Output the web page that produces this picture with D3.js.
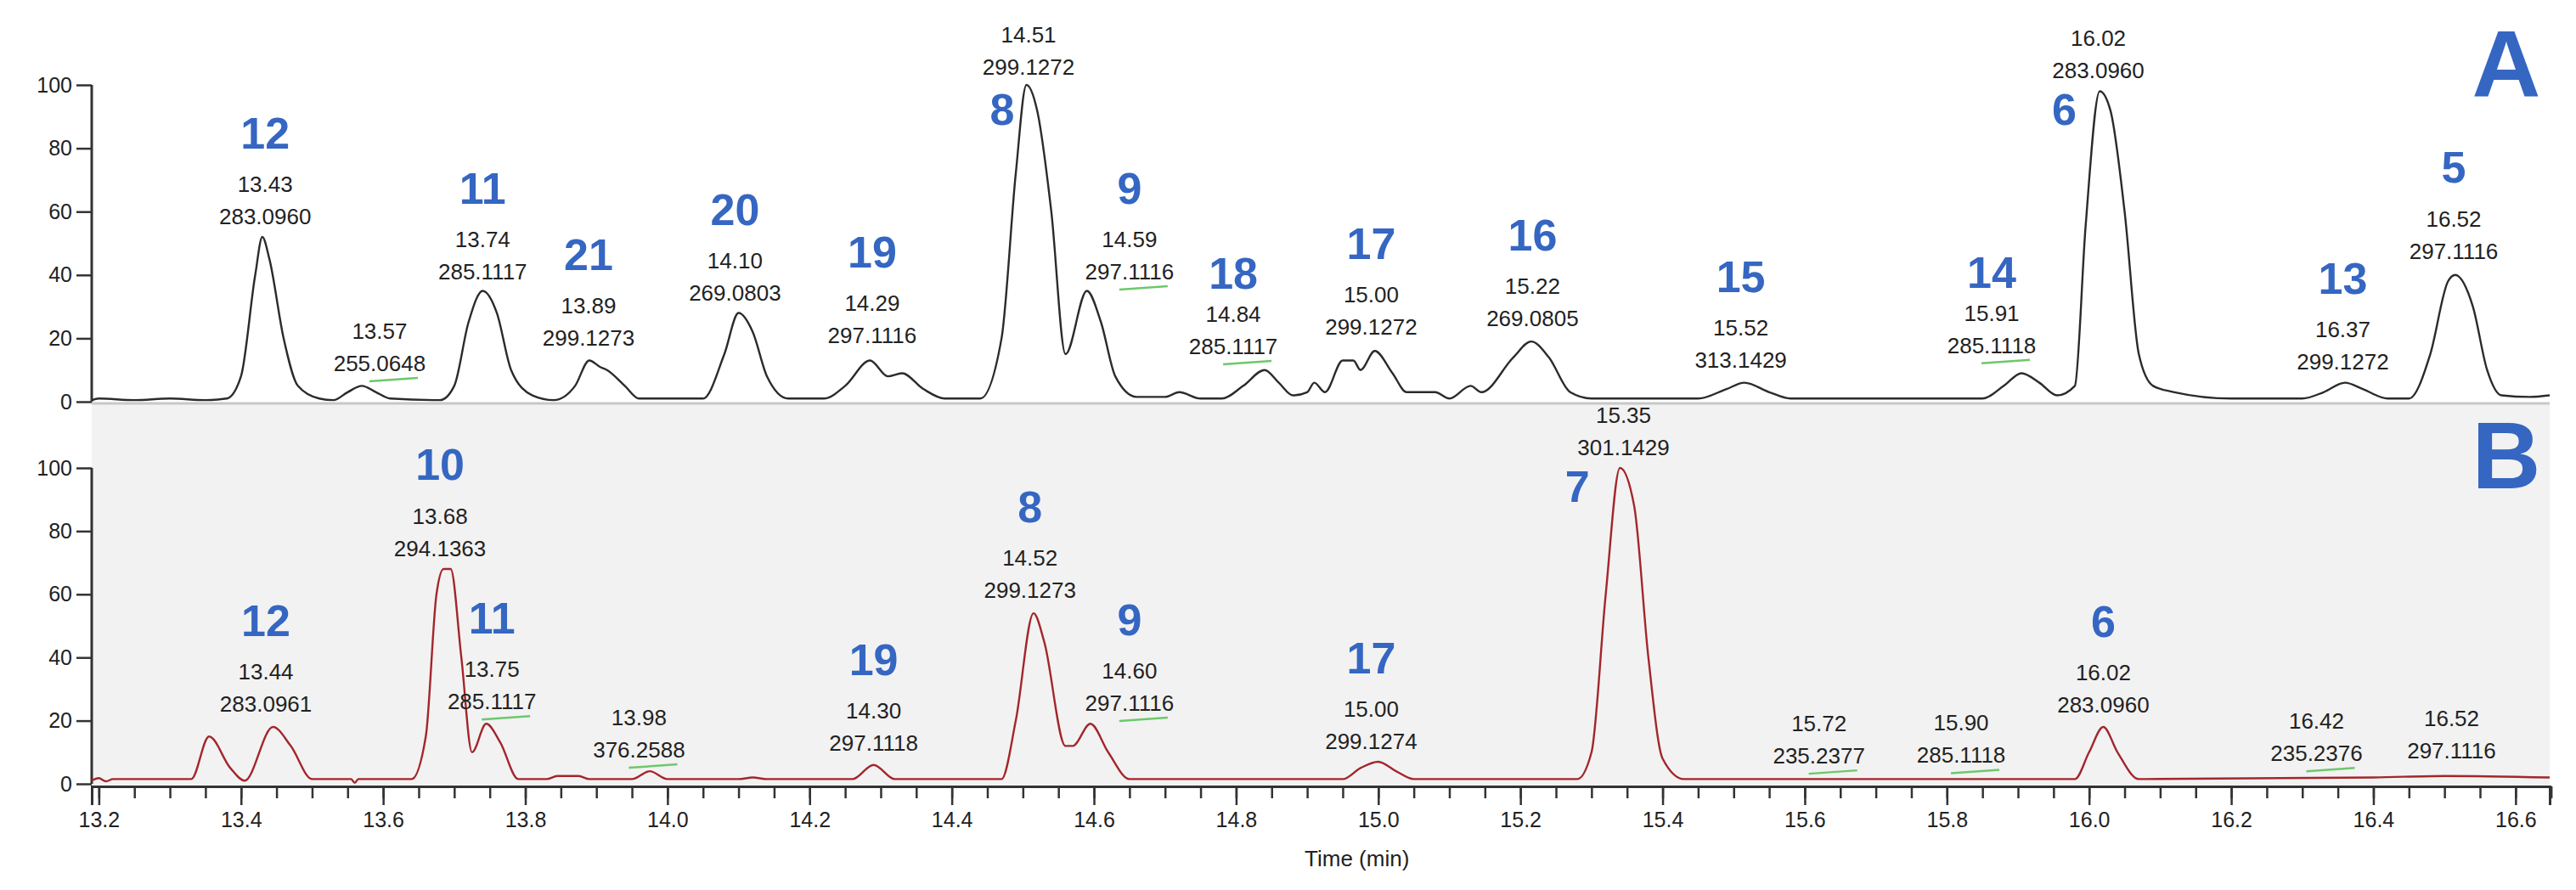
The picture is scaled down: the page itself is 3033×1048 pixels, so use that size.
<!DOCTYPE html>
<html><head><meta charset="utf-8">
<script src="https://cdn.jsdelivr.net/npm/d3@7"></script>
<style>body{margin:0;background:#fff}svg{display:block}</style>
</head><body><svg id="c" width="3033" height="1048"></svg>
<script>
// ---- data ----
const traceA = [[13.19,0.5],[13.2,1],[13.25,0.5],[13.3,1],[13.35,0.5],[13.38,1],[13.40,8],[13.42,40],[13.43,52],[13.44,45],[13.46,20],[13.48,5],[13.51,1],[13.53,0.5],[13.55,3],[13.57,5],[13.59,3],[13.61,1],[13.68,0.5],[13.70,5],[13.72,25],[13.74,35],[13.76,28],[13.78,10],[13.81,2],[13.84,0.5],[13.87,5],[13.89,13],[13.905,11],[13.915,10],[13.94,5],[13.96,1],[14.05,1],[14.08,15],[14.10,28],[14.12,22],[14.14,8],[14.17,1],[14.22,1],[14.25,5],[14.285,13],[14.31,8],[14.33,9],[14.36,4],[14.39,1],[14.44,1],[14.47,20],[14.49,72],[14.505,100],[14.52,92],[14.54,60],[14.56,15],[14.59,35],[14.61,25],[14.63,8],[14.66,1.5],[14.70,1.5],[14.72,3],[14.75,1],[14.78,1],[14.81,5],[14.84,10],[14.86,6],[14.88,2],[14.90,3],[14.91,6],[14.925,3],[14.95,13],[14.965,13],[14.975,10],[14.995,16],[15.02,9],[15.04,3],[15.06,3],[15.08,3],[15.10,1],[15.13,5],[15.145,3],[15.19,14],[15.215,19],[15.24,14],[15.27,3],[15.30,1],[15.45,1],[15.49,4],[15.515,6],[15.55,3],[15.58,1],[15.85,1],[15.88,5],[15.905,9],[15.93,6],[15.955,2],[15.98,5],[15.995,55],[16.015,98],[16.03,92],[16.05,60],[16.07,15],[16.09,5],[16.12,3],[16.2,1],[16.30,1],[16.33,3],[16.36,6],[16.385,4],[16.42,1],[16.45,1],[16.48,15],[16.505,38],[16.515,40],[16.54,30],[16.56,10],[16.58,2],[16.62,1.5],[16.648,2]];
const traceB = [[13.19,1],[13.20,1.8],[13.21,0.8],[13.22,1.5],[13.33,1.5],[13.355,15],[13.385,5],[13.405,1],[13.445,18],[13.47,12],[13.50,1.5],[13.555,1.5],[13.56,0.3],[13.565,1.5],[13.64,1.5],[13.66,15],[13.675,60],[13.685,68],[13.695,68],[13.71,40],[13.725,10],[13.745,19],[13.765,13],[13.79,1.5],[13.83,1.5],[13.845,2.5],[13.875,2.5],[13.89,1.5],[13.95,1.5],[13.975,4],[14.00,1.5],[14.10,1.5],[14.12,2],[14.14,1.5],[14.26,1.5],[14.29,6],[14.32,1.5],[14.47,1.5],[14.49,20],[14.515,54],[14.53,45],[14.56,12],[14.57,12],[14.595,19],[14.62,10],[14.65,1.5],[14.95,1.5],[14.975,5],[15.00,7],[15.025,4],[15.05,1.5],[15.28,1.5],[15.30,10],[15.32,60],[15.34,100],[15.36,88],[15.38,40],[15.40,8],[15.43,1.5],[15.98,1.5],[16.00,10],[16.02,18],[16.04,10],[16.07,1.5],[16.40,2],[16.50,2.5],[16.648,2]];
const xTicks = [13.2,13.4,13.6,13.8,14.0,14.2,14.4,14.6,14.8,15.0,15.2,15.4,15.6,15.8,16.0,16.2,16.4,16.6];
const yTicks = [0,20,40,60,80,100];
const labelsA = [
 {n:"12",t:13.434,rt:"13.43",mz:"283.0960",v:57.9},
 {n:"",t:13.595,rt:"13.57",mz:"255.0648",v:11.5,g:1},
 {n:"11",t:13.74,rt:"13.74",mz:"285.1117",v:40.5},
 {n:"21",t:13.889,rt:"13.89",mz:"299.1273",v:19.6},
 {n:"20",t:14.095,rt:"14.10",mz:"269.0803",v:33.8},
 {n:"19",t:14.288,rt:"14.29",mz:"297.1116",v:20.4},
 {n:"8",t:14.508,rt:"14.51",mz:"299.1272",v:105,nt:14.471,nv:91},
 {n:"9",t:14.65,rt:"14.59",mz:"297.1116",v:40.5,g:1},
 {n:"18",t:14.796,rt:"14.84",mz:"285.1117",v:16.9,g:1,no:46},
 {n:"17",t:14.99,rt:"15.00",mz:"299.1272",v:23},
 {n:"16",t:15.217,rt:"15.22",mz:"269.0805",v:25.7},
 {n:"15",t:15.51,rt:"15.52",mz:"313.1429",v:12.6},
 {n:"14",t:15.863,rt:"15.91",mz:"285.1118",v:17.2,g:1,no:46},
 {n:"6",t:16.013,rt:"16.02",mz:"283.0960",v:104,nt:15.965,nv:91},
 {n:"13",t:16.357,rt:"16.37",mz:"299.1272",v:12},
 {n:"5",t:16.513,rt:"16.52",mz:"297.1116",v:47}
];
const labelsB = [
 {n:"12",t:13.435,rt:"13.44",mz:"283.0961",v:24.7},
 {n:"10",t:13.68,rt:"13.68",mz:"294.1363",v:74},
 {n:"11",t:13.753,rt:"13.75",mz:"285.1117",v:25.5,g:1},
 {n:"",t:13.96,rt:"13.98",mz:"376.2588",v:10.2,g:1},
 {n:"19",t:14.29,rt:"14.30",mz:"297.1118",v:12.4},
 {n:"8",t:14.51,rt:"14.52",mz:"299.1273",v:60.8},
 {n:"9",t:14.65,rt:"14.60",mz:"297.1116",v:25,g:1},
 {n:"17",t:14.99,rt:"15.00",mz:"299.1274",v:12.9},
 {n:"7",t:15.345,rt:"15.35",mz:"301.1429",v:106,nt:15.28,nv:93},
 {n:"",t:15.62,rt:"15.72",mz:"235.2377",v:8.3,g:1},
 {n:"",t:15.82,rt:"15.90",mz:"285.1118",v:8.5,g:1},
 {n:"6",t:16.02,rt:"16.02",mz:"283.0960",v:24.5},
 {n:"",t:16.32,rt:"16.42",mz:"235.2376",v:9.1,g:1},
 {n:"",t:16.51,rt:"16.52",mz:"297.1116",v:10}
];
// ---- drawing ----
const svg = d3.select("#c");
const L=108, R=3002, divY=475, axisY=926;
const x = d3.scaleLinear().domain([13.19,16.648]).range([L,R]);
const yA = d3.scaleLinear().domain([0,100]).range([473,100]);
const yB = d3.scaleLinear().domain([0,100]).range([923,551]);
const font="'Liberation Sans', Arial, sans-serif";
const blue="#3566c2";

svg.append("rect").attr("x",L).attr("y",divY).attr("width",R-L).attr("height",axisY-divY).attr("fill","#f2f2f2");
svg.append("line").attr("x1",L).attr("x2",R).attr("y1",divY).attr("y2",divY).attr("stroke","#c8c8c8").attr("stroke-width",3);

function yAxis(y){
  const g = svg.append("g").attr("transform",`translate(${L},0)`);
  g.call(d3.axisLeft(y).tickValues(d3.range(0,101,5)).tickSize(10).tickFormat(""));
  g.call(d3.axisLeft(y).tickValues(yTicks).tickSize(18).tickFormat(d3.format("d")));
  g.selectAll("path.domain").remove();
  g.selectAll("text").attr("font-family",font).attr("font-size",25).attr("fill","#222").attr("dx",-2);
  g.selectAll("line").attr("stroke","#333").attr("stroke-width",2.5);
  svg.append("line").attr("x1",L).attr("x2",L).attr("y1",y(100)).attr("y2",y(0)).attr("stroke","#333").attr("stroke-width",3);
}
yAxis(yA); yAxis(yB);

const gx = svg.append("g").attr("transform",`translate(0,${axisY})`);
gx.call(d3.axisBottom(x).tickValues(d3.range(13.2,16.651,0.05)).tickSize(14).tickFormat(""));
gx.append("g").call(d3.axisBottom(x).tickValues(xTicks).tickSize(22).tickFormat(d3.format(".1f")));
gx.selectAll("path.domain").attr("stroke","#333").attr("stroke-width",3);
gx.selectAll("line").attr("stroke","#333").attr("stroke-width",2.5);
gx.selectAll("text").attr("font-family",font).attr("font-size",25).attr("fill","#222").attr("dy","0.9em");
svg.append("text").attr("x",x(14.97)).attr("y",1020).attr("text-anchor","middle").attr("font-family",font).attr("font-size",26).attr("fill","#222").text("Time (min)");

function trace(data,y,color){
  svg.append("path").datum(data).attr("fill","none").attr("stroke",color).attr("stroke-width",2.4)
   .attr("stroke-linejoin","round")
   .attr("d",d3.line().x(d=>x(d[0])).y(d=>y(d[1])).curve(d3.curveMonotoneX));
}
trace(traceA,yA,"#2b2b2b");
trace(traceB,yB,"#a3262c");

function labels(list,y){
  list.forEach(d=>{
    const my=y(d.v), cx=x(d.t);
    svg.append("text").attr("x",cx).attr("y",my).attr("text-anchor","middle").attr("dominant-baseline","middle")
      .attr("font-family",font).attr("font-size",26).attr("fill","#222").text(d.mz);
    svg.append("text").attr("x",cx).attr("y",my-38).attr("text-anchor","middle").attr("dominant-baseline","middle")
      .attr("font-family",font).attr("font-size",26).attr("fill","#222").text(d.rt);
    if(d.g){
      svg.append("line").attr("x1",cx-12).attr("x2",cx+45).attr("y1",my+19).attr("y2",my+15)
        .attr("stroke","#6cc86c").attr("stroke-width",2.5);
    }
    if(d.n){
      const nx = d.nt!==undefined? x(d.nt):cx;
      const ny = d.nv!==undefined? y(d.nv): my-38-(d.no||58);
      svg.append("text").attr("x",nx).attr("y",ny).attr("text-anchor","middle").attr("dominant-baseline","middle")
        .attr("font-family",font).attr("font-size",52).attr("font-weight","bold").attr("fill",blue).text(d.n);
    }
  });
}
labels(labelsA,yA); labels(labelsB,yB);

svg.append("text").attr("x",2951).attr("y",84).attr("text-anchor","middle").attr("dominant-baseline","middle")
 .attr("font-family",font).attr("font-size",112).attr("font-weight","bold").attr("fill",blue).text("A");
svg.append("text").attr("x",2951).attr("y",545).attr("text-anchor","middle").attr("dominant-baseline","middle")
 .attr("font-family",font).attr("font-size",112).attr("font-weight","bold").attr("fill",blue).text("B");
</script></body></html>
